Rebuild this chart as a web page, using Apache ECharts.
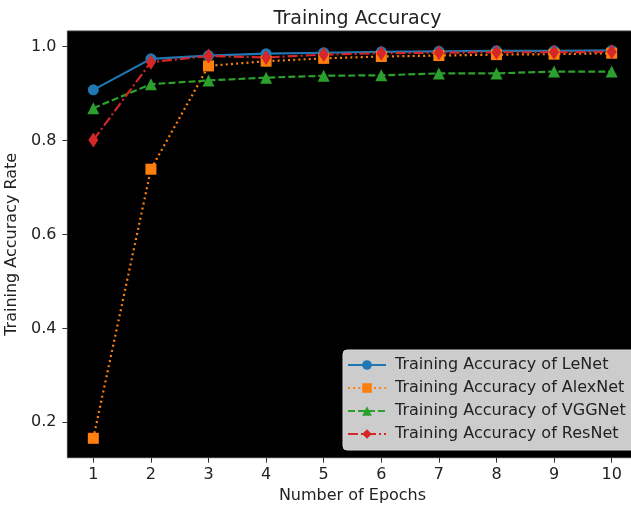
<!DOCTYPE html>
<html>
<head>
<meta charset="utf-8">
<script src="https://cdn.jsdelivr.net/npm/echarts@6/dist/echarts.min.js"></script>
<style>html,body{margin:0;padding:0;background:#fff;}#c{width:631px;height:509px;}</style>
</head>
<body>
<div id="c"></div>
<script>
const epochs = [1, 2, 3, 4, 5, 6, 7, 8, 9, 10];
const lenet = [0.908, 0.974, 0.981, 0.985, 0.987, 0.989, 0.990, 0.991, 0.991, 0.992];
const alexnet = [0.166, 0.739, 0.959, 0.969, 0.975, 0.979, 0.981, 0.983, 0.984, 0.986];
const vggnet = [0.869, 0.920, 0.928, 0.934, 0.938, 0.939, 0.943, 0.943, 0.947, 0.947];
const resnet = [0.801, 0.967, 0.980, 0.977, 0.983, 0.986, 0.987, 0.988, 0.988, 0.989];
const yTicks = [0.2, 0.4, 0.6, 0.8, 1.0];
const seriesNames = ['Training Accuracy of LeNet', 'Training Accuracy of AlexNet', 'Training Accuracy of VGGNet', 'Training Accuracy of ResNet'];

const font = 'DejaVu Sans';
const pair = arr => epochs.map((e, i) => [e, arr[i]]);
const chart = echarts.init(document.getElementById('c'), null, {renderer: 'canvas'});
const mk = (name, data, color, symbol, size, dash) => ({
  name, type: 'line', data: pair(data), symbol, symbolSize: size,
  showSymbol: true, animation: false,
  itemStyle: {color, borderWidth: 0},
  lineStyle: {color, width: 2.2, type: dash, cap: 'butt'},
  emphasis: {disabled: true}
});
chart.setOption({
  backgroundColor: '#ffffff',
  animation: false,
  title: {
    text: 'Training Accuracy', left: 352.5, top: 5, textAlign: 'center',
    textStyle: {fontFamily: font, fontSize: 19, fontWeight: 'normal', color: '#222'}
  },
  grid: {left: 67.4, top: 31, width: 570.2, height: 426.7, show: true, backgroundColor: '#000', borderColor: '#3a3a3a', borderWidth: 1, containLabel: false, outerBoundsMode: 'none'},
  xAxis: {
    type: 'value', min: 0.55, max: 10.45,
    name: 'Number of Epochs', nameLocation: 'middle', nameGap: 29,
    nameTextStyle: {fontFamily: font, fontSize: 16, color: '#222'},
    axisLine: {show: false},
    splitLine: {show: false},
    axisTick: {show: true, length: 5, lineStyle: {color: '#333'}, customValues: epochs},
    axisLabel: {fontFamily: font, fontSize: 16, color: '#222', margin: 9, customValues: epochs}
  },
  yAxis: {
    type: 'value', min: 0.1247, max: 1.0333,
    name: 'Training Accuracy Rate', nameLocation: 'middle', nameGap: 44, nameRotate: 90,
    nameTextStyle: {fontFamily: font, fontSize: 16, color: '#222'},
    axisLine: {show: false},
    splitLine: {show: false},
    axisTick: {show: true, length: 5, lineStyle: {color: '#333'}, customValues: yTicks},
    axisLabel: {fontFamily: font, fontSize: 16, color: '#222', margin: 11, customValues: yTicks, formatter: v => v.toFixed(1)}
  },
  legend: {
    orient: 'vertical', left: 343, top: 350,
    data: seriesNames,
    backgroundColor: '#cccccc', borderColor: '#d8d8d8', borderWidth: 1, borderRadius: 4,
    padding: [7, 30, 8, 4], itemWidth: 38, itemHeight: 12, itemGap: 7,
    textStyle: {fontFamily: font, fontSize: 16, color: '#222', padding: [0, 0, 0, 4]}
  },
  series: [
    mk(seriesNames[0], lenet, '#1f77b4', 'circle', 11, 'solid'),
    mk(seriesNames[1], alexnet, '#ff7f0e', 'rect', 11, [2, 3.2]),
    mk(seriesNames[2], vggnet, '#2ca02c', 'triangle', 12, [7, 3]),
    mk(seriesNames[3], resnet, '#d62728', 'diamond', [10, 15], [10, 3, 2, 3])
  ]
});
</script>
</body>
</html>
